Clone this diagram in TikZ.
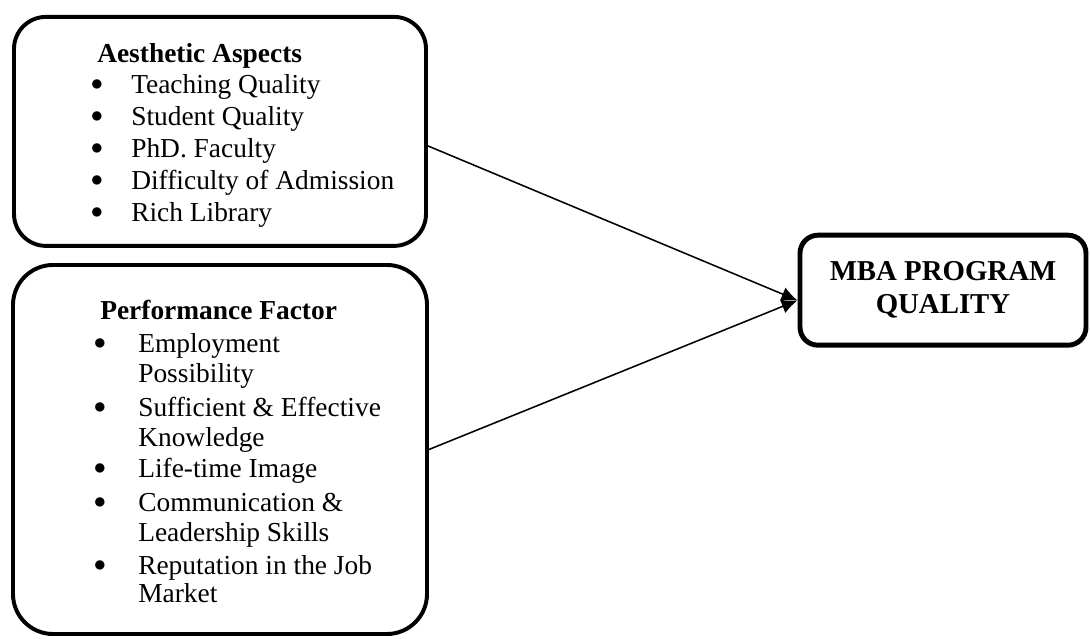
\documentclass[tikz,border=0pt]{standalone}
\usepackage{fontspec}
\setmainfont{Liberation Serif}
\usetikzlibrary{arrows.meta}

\begin{document}
\begin{tikzpicture}[>={Latex[length=4mm,width=3.6mm]},
  box/.style={draw,line width=2.8pt,inner sep=0pt},
  head/.style={font=\fontsize{19.5}{23}\selectfont\bfseries,anchor=base west,inner sep=0pt},
  item/.style={font=\fontsize{19.5}{23}\selectfont,anchor=base west,inner sep=0pt},
  dot/.style={font=\fontsize{16}{20}\selectfont,anchor=base,inner sep=0pt}]
  \useasboundingbox (0,0) rectangle (27.25,15.975);
  % the three boxes
  \node[box,rounded corners=0.8cm,minimum width=10.3cm,minimum height=5.725cm]
    (aesth) at (5.5,12.69) {};
  \node[box,rounded corners=1cm,minimum width=10.35cm,minimum height=9.225cm]
    (perf) at (5.5,4.7375) {};
  \node[box,line width=3.5pt,rounded corners=0.45cm,minimum width=7.15cm,minimum height=2.75cm,
    align=center,font=\fontsize{20.5}{23.5}\selectfont\bfseries]
    (mba) at (23.575,8.72) {MBA PROGRAM\\QUALITY};
  % aesthetic aspects
  \node[head] (a0) at (2.425,14.4)  {Aesthetic Aspects};
  \node[dot]  (b1) at (2.425,13.7) {$\bullet$};
  \node[dot]  (b2) at (2.425,12.9) {$\bullet$};
  \node[dot]  (b3) at (2.425,12.1) {$\bullet$};
  \node[dot]  (b4) at (2.425,11.3) {$\bullet$};
  \node[dot]  (b5) at (2.425,10.5) {$\bullet$};
  \node[item] (a1) at (3.275,13.625) {Teaching Quality};
  \node[item] (a2) at (3.275,12.825) {Student Quality};
  \node[item] (a3) at (3.275,12.025) {PhD. Faculty};
  \node[item] (a4) at (3.275,11.225) {Difficulty of Admission};
  \node[item] (a5) at (3.275,10.425) {Rich Library};
  % performance factor
  \node[head] (p0) at (2.5,7.975) {Performance Factor};
  \node[dot]  (c1) at (2.5,7.225) {$\bullet$};
  \node[dot]  (c2) at (2.5,5.625) {$\bullet$};
  \node[dot]  (c3) at (2.5,4.1)   {$\bullet$};
  \node[dot]  (c4) at (2.5,3.25)  {$\bullet$};
  \node[dot]  (c5) at (2.5,1.675) {$\bullet$};
  \node[item] (p1) at (3.45,7.15)  {Employment};
  \node[item] (p2) at (3.45,6.4)   {Possibility};
  \node[item] (p3) at (3.45,5.55)  {Sufficient \& Effective};
  \node[item] (p4) at (3.45,4.8)   {Knowledge};
  \node[item] (p5) at (3.45,4.025) {Life-time Image};
  \node[item] (p6) at (3.45,3.175) {Communication \&};
  \node[item] (p7) at (3.45,2.425) {Leadership Skills};
  \node[item] (p8) at (3.45,1.6)   {Reputation in the Job};
  \node[item] (p9) at (3.45,0.9)   {Market};
  \draw[->,line width=1.1pt] (aesth.-4) -- (mba.184);
  \draw[->,line width=1.1pt] (perf.east) -- (mba.184);
\end{tikzpicture}
\end{document}
